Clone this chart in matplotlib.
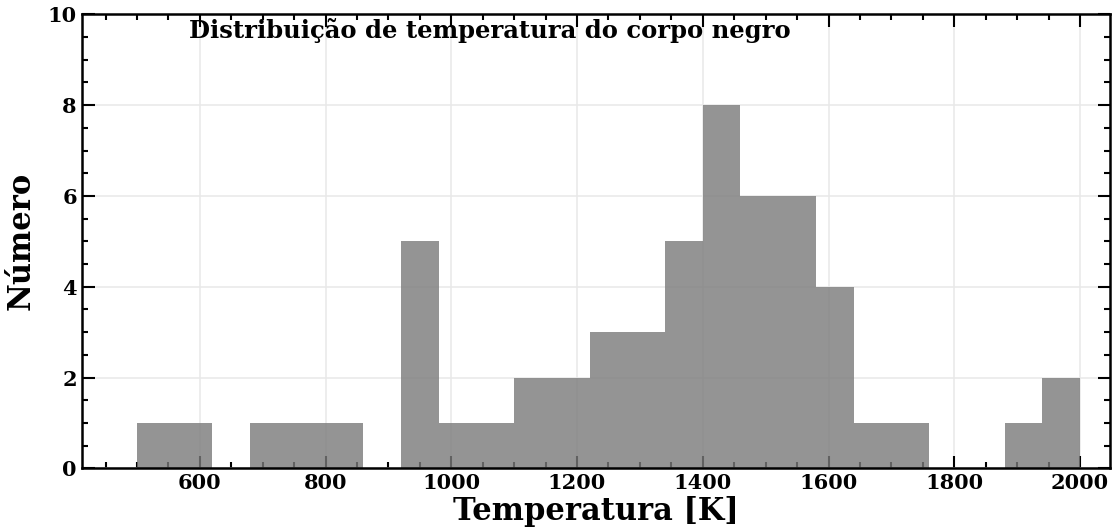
import matplotlib.pyplot as plt
import numpy as np
from matplotlib.ticker import MultipleLocator

# histogram bin edges (K) and counts
bin_edges = np.arange(500, 2001, 60)
counts = [1, 1, 0, 1, 1, 1, 0, 5, 1, 1, 2, 2, 3, 3, 5, 8, 6, 6, 4, 1, 1, 0, 0, 1, 2]

title = 'Distribuição de temperatura do corpo negro'
xlabel = 'Temperatura [K]'
ylabel = 'Número'

plt.rcParams['font.family'] = 'DejaVu Serif'
plt.rcParams['font.weight'] = 'bold'

fig, ax = plt.subplots(figsize=(11.18, 5.31), dpi=100)
fig.subplots_adjust(left=0.073, right=0.993, top=0.973, bottom=0.118)

# one sample per bin, weighted by the count
ax.hist(bin_edges[:-1], bins=bin_edges, weights=counts, color='#7a7a7a', alpha=0.8)

ax.grid(True, color='#e8e8e8', linewidth=1.1)
ax.set_axisbelow(True)

ax.set_xlim(412, 2048)
ax.set_ylim(0, 10)
ax.xaxis.set_major_locator(MultipleLocator(200))
ax.xaxis.set_minor_locator(MultipleLocator(50))
ax.yaxis.set_major_locator(MultipleLocator(2))
ax.yaxis.set_minor_locator(MultipleLocator(0.5))

ax.tick_params(which='both', direction='in', top=True, right=True, width=1.5, labelsize=15)
ax.tick_params(which='major', length=9)
ax.tick_params(which='minor', length=4)
for sp in ax.spines.values():
    sp.set_linewidth(1.8)

ax.set_xlabel(xlabel, fontsize=22, fontweight='bold', labelpad=2)
ax.set_ylabel(ylabel, fontsize=22, fontweight='bold', labelpad=8)
ax.text(0.104, 0.992, title, transform=ax.transAxes, fontsize=17.5, fontweight='bold', va='top', ha='left')

fig.savefig('out.png', dpi=100)
